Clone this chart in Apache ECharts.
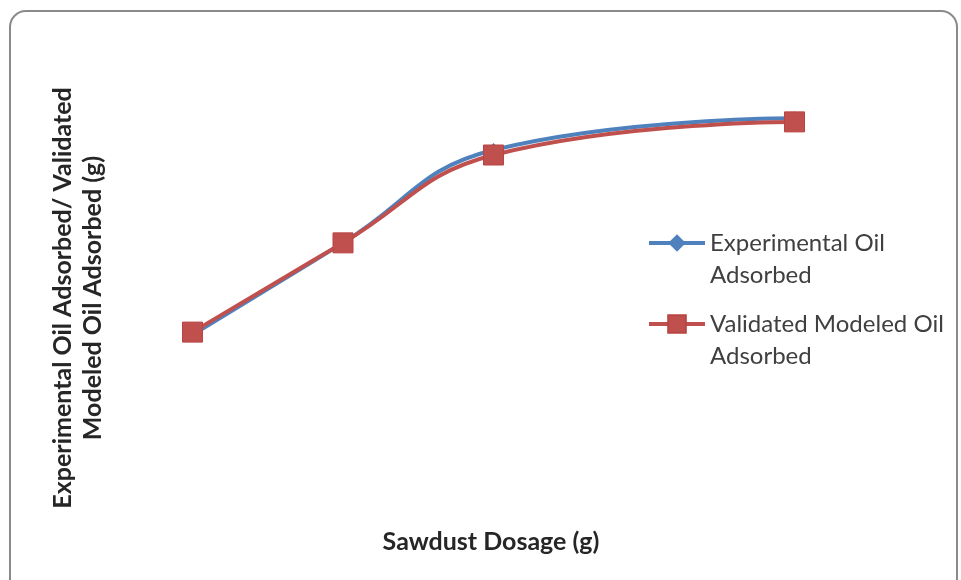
<!DOCTYPE html>
<html><head><meta charset="utf-8">
<script src="https://cdn.jsdelivr.net/npm/echarts@6/dist/echarts.min.js"></script>
<style>html,body{margin:0;padding:0;background:#fff}#c{width:961px;height:580px}</style>
</head><body><div id="c"></div>
<script>
const dosage = [1, 2, 3, 5];
const experimental = [3.59, 5.59, 7.61, 8.30];
const modeled = [3.65, 5.59, 7.50, 8.22];
const seriesNames = ['Experimental Oil\nAdsorbed', 'Validated Modeled Oil\nAdsorbed'];
const xTitle = 'Sawdust Dosage (g)';
const yTitle = 'Experimental Oil Adsorbed/ Validated\nModeled Oil Adsorbed (g)';

const FONT = 'Lato';
const legendText = {fontFamily: FONT, fontSize: 24, color: '#404040', lineHeight: 32};
function legendFor(name, top) {
  return {
    orient: 'vertical', left: 642, top: top,
    itemWidth: 56, itemHeight: 22,
    lineStyle: {width: 4},
    textStyle: legendText,
    data: [name],
    formatter: n => '\n' + n
  };
}

const chart = echarts.init(document.getElementById('c'));
chart.setOption({
  animation: false,
  backgroundColor: '#fff',
  grid: {left: 42, right: 16, top: 40, bottom: 80},
  xAxis: {type: 'value', min: 0, max: 6, show: false},
  yAxis: {type: 'value', min: 0, max: 10, show: false},
  legend: [legendFor(seriesNames[0], 190), legendFor(seriesNames[1], 271)],
  graphic: [
    {type: 'rect', shape: {x: 10, y: 11, width: 947, height: 600, r: 16}, style: {fill: 'none', stroke: '#8a8a8a', lineWidth: 2}, z: -1},
    {type: 'text', x: 491, y: 542, style: {text: xTitle, x: 0, y: 0, textAlign: 'center', textVerticalAlign: 'middle', fontFamily: FONT, fontWeight: 'bold', fontSize: 25, fill: '#262626'}},
    {type: 'text', x: 78, y: 298, rotation: Math.PI / 2, style: {text: yTitle, x: 0, y: 0, textAlign: 'center', textVerticalAlign: 'middle', fontFamily: FONT, fontWeight: 'bold', fontSize: 25, lineHeight: 30, fill: '#262626'}}
  ],
  series: [
    {name: seriesNames[0], type: 'line', smooth: 0.45, data: dosage.map((d, i) => [d, experimental[i]]),
     symbol: 'diamond', symbolSize: 14, lineStyle: {color: '#4F81BD', width: 4}, itemStyle: {color: '#4F81BD'}, z: 2},
    {name: seriesNames[1], type: 'line', smooth: 0.45, data: dosage.map((d, i) => [d, modeled[i]]),
     symbol: 'rect', symbolSize: 20, lineStyle: {color: '#C0504D', width: 4}, itemStyle: {color: '#C0504D', borderColor: '#b84542', borderWidth: 1}, z: 3}
  ]
});
</script></body></html>
